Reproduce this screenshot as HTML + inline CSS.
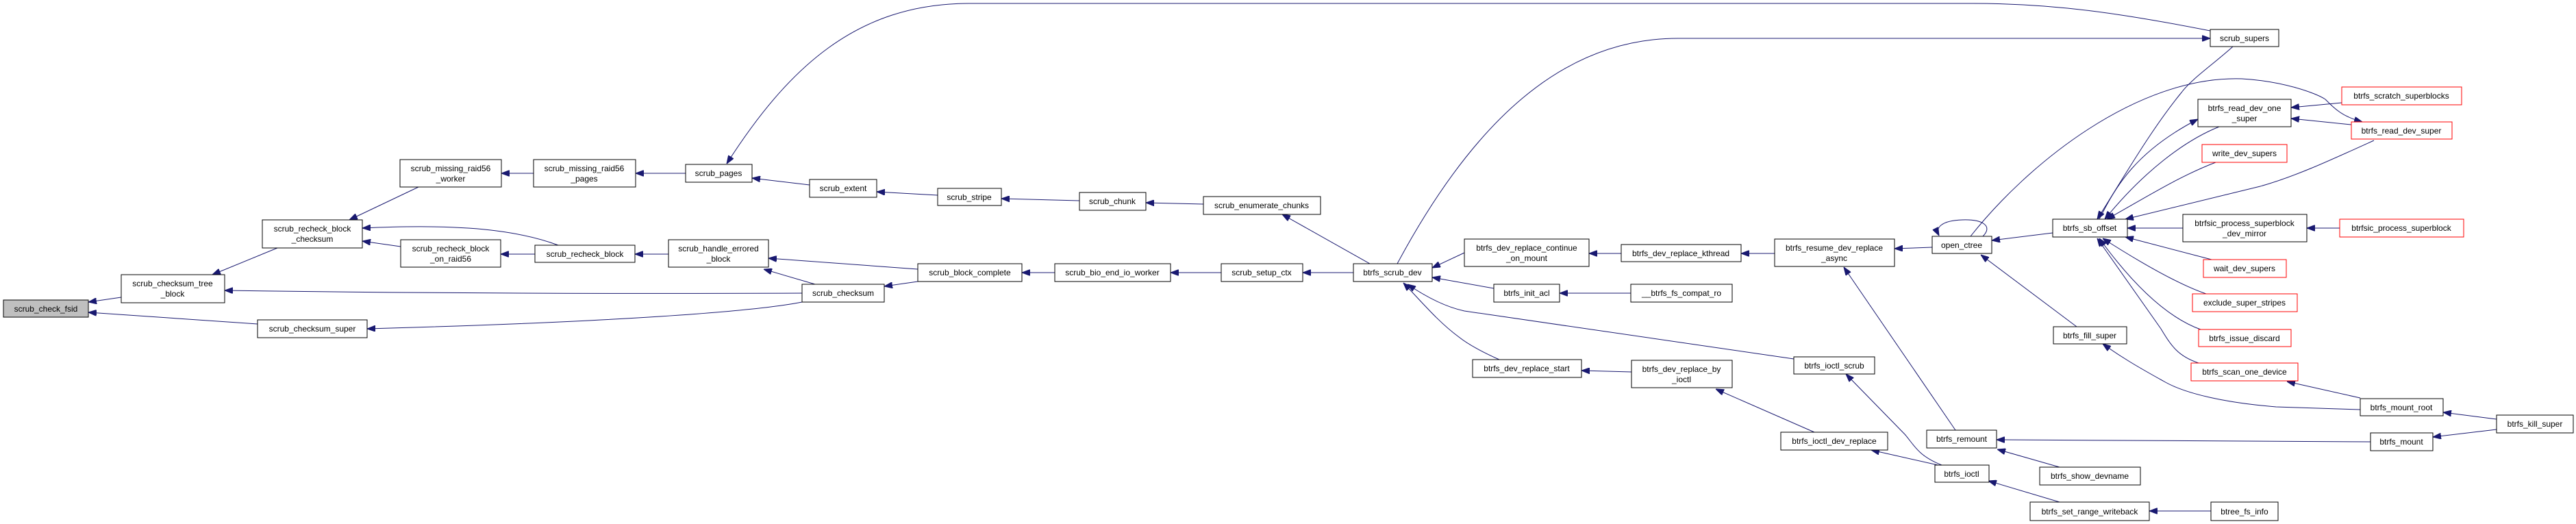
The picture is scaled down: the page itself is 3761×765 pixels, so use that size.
<!DOCTYPE html>
<html><head><meta charset="utf-8"><style>
html,body{margin:0;padding:0;background:#fff;}
svg{display:block;}
text{font-family:"Liberation Sans",sans-serif;font-size:12px;fill:#000;text-anchor:middle;}
rect{fill:#fff;stroke:#000;stroke-width:1;}
rect.r{stroke:#ff0000;}
path{fill:none;stroke:#191970;stroke-width:1;}
</style></head><body>
<svg width="3761" height="765" viewBox="0 0 3761 765" xmlns="http://www.w3.org/2000/svg">
<defs><marker id="a" viewBox="0 0 12 9" refX="12" refY="4.5" markerWidth="12" markerHeight="9" markerUnits="userSpaceOnUse" orient="auto"><path d="M0,0 L12,4.5 L0,9 z" style="fill:#191970;stroke:#191970"/></marker></defs>
<g marker-end="url(#a)">
<path d="M177,434 L129,441"/>
<path d="M376,473 L129,456"/>
<path d="M405,362 L310,401"/>
<path d="M1171,428 C900,429 600,428 328,424"/>
<path d="M1171,441 C1100,455 900,470 536,480"/>
<path d="M611,273 L510,321"/>
<path d="M815,358 C740,330 640,328 529,333"/>
<path d="M585,360 L529,352"/>
<path d="M781,371 L731,371"/>
<path d="M779,253 L732,253"/>
<path d="M1001,253 L928,253"/>
<path d="M976,371 L927,371"/>
<path d="M1340,393 L1122,377"/>
<path d="M1190,415 L1115,393"/>
<path d="M1340,411 L1291,418"/>
<path d="M1540,398 L1492,398"/>
<path d="M1783,398 L1709,398"/>
<path d="M1976,398 L1902,398"/>
<path d="M1182,270 L1098,260"/>
<path d="M1369,285 L1280,280"/>
<path d="M1576,293 L1462,290"/>
<path d="M1757,298 L1673,296"/>
<path d="M2000,385 L1872,313"/>
<path d="M3227,45 C3100,20 3000,5 2880,5 L1415,5 C1250,5 1150,100 1061,239"/>
<path d="M2040,385 C2150,180 2280,56 2450,56 L3227,56"/>
<path d="M2138,369 L2091,391"/>
<path d="M2367,370 L2320,370"/>
<path d="M2591,370 L2542,370"/>
<path d="M2821,361 L2766,363"/>
<path d="M2181,421 L2091,405"/>
<path d="M2381,428 L2277,428"/>
<path d="M2619,524 L2138,454 C2110,448 2080,432 2055,415"/>
<path d="M2189,525 C2160,512 2140,500 2130,492 C2100,470 2075,440 2049,413"/>
<path d="M2382,543 L2309,541"/>
<path d="M2649,631 L2505,568"/>
<path d="M2834,680 L2732,657"/>
<path d="M2835,679 C2800,665 2795,650 2781,634 L2695,546"/>
<path d="M2855,628 L2692,390"/>
<path d="M2895,345 C2910,330 2895,320 2865,321 C2835,322 2825,332 2831,344"/>
<path d="M2997,340 L2908,351"/>
<path d="M2877,345 C2960,240 3120,110 3273,115 C3330,118 3380,135 3395,145 C3410,160 3420,170 3449,178"/>
<path d="M3032,477 L2892,372"/>
<path d="M3461,645 L2915,642"/>
<path d="M3007,682 L2916,656"/>
<path d="M3007,733 L2903,702"/>
<path d="M3228,746 L3138,746"/>
<path d="M3446,598 L3323,594 C3250,588 3190,575 3158,556 C3120,535 3095,520 3070,502"/>
<path d="M3446,581 L3339,557"/>
<path d="M3645,612 L3567,602"/>
<path d="M3645,627 L3552,638"/>
<path d="M3260,68 C3230,95 3200,115 3185,135 C3140,190 3100,260 3062,320"/>
<path d="M3065,320 C3090,270 3120,220 3209,174"/>
<path d="M3240,185 C3190,205 3130,250 3073,320"/>
<path d="M3235,237 C3180,258 3130,290 3076,320"/>
<path d="M3466,205 C3400,235 3350,258 3300,272 L3103,320"/>
<path d="M3187,333 L3106,333"/>
<path d="M3416,333 L3368,333"/>
<path d="M3229,379 L3103,346"/>
<path d="M3221,429 C3180,415 3120,380 3070,348"/>
<path d="M3213,481 C3160,462 3110,410 3065,348"/>
<path d="M3210,530 C3180,520 3170,505 3155,480 L3062,348"/>
<path d="M3419,150 L3345,157"/>
<path d="M3433,182 L3345,173"/>
</g>
<rect x="5" y="438" width="124" height="25" style="fill:#bfbfbf"/><text x="67" y="455">scrub_check_fsid</text>
<rect x="177" y="401" width="151" height="41"/><text x="252" y="418">scrub_checksum_tree</text><text x="252" y="433">_block</text>
<rect x="376" y="467" width="160" height="26"/><text x="456" y="484">scrub_checksum_super</text>
<rect x="383" y="321" width="146" height="41"/><text x="456" y="338">scrub_recheck_block</text><text x="456" y="353">_checksum</text>
<rect x="584" y="233" width="148" height="40"/><text x="658" y="250">scrub_missing_raid56</text><text x="658" y="265">_worker</text>
<rect x="779" y="233" width="149" height="40"/><text x="853" y="250">scrub_missing_raid56</text><text x="853" y="265">_pages</text>
<rect x="585" y="350" width="146" height="40"/><text x="658" y="367">scrub_recheck_block</text><text x="658" y="382">_on_raid56</text>
<rect x="781" y="358" width="146" height="25"/><text x="854" y="375">scrub_recheck_block</text>
<rect x="976" y="350" width="146" height="40"/><text x="1049" y="367">scrub_handle_errored</text><text x="1049" y="382">_block</text>
<rect x="1001" y="240" width="97" height="26"/><text x="1049" y="257">scrub_pages</text>
<rect x="1182" y="262" width="98" height="26"/><text x="1231" y="279">scrub_extent</text>
<rect x="1369" y="275" width="93" height="25"/><text x="1415" y="292">scrub_stripe</text>
<rect x="1576" y="281" width="97" height="26"/><text x="1624" y="298">scrub_chunk</text>
<rect x="1757" y="287" width="171" height="26"/><text x="1842" y="304">scrub_enumerate_chunks</text>
<rect x="1171" y="415" width="120" height="26"/><text x="1231" y="432">scrub_checksum</text>
<rect x="1340" y="385" width="152" height="26"/><text x="1416" y="402">scrub_block_complete</text>
<rect x="1540" y="385" width="169" height="26"/><text x="1624" y="402">scrub_bio_end_io_worker</text>
<rect x="1783" y="385" width="119" height="26"/><text x="1842" y="402">scrub_setup_ctx</text>
<rect x="1976" y="385" width="115" height="26"/><text x="2033" y="402">btrfs_scrub_dev</text>
<rect x="2138" y="349" width="182" height="40"/><text x="2229" y="366">btrfs_dev_replace_continue</text><text x="2229" y="381">_on_mount</text>
<rect x="2367" y="357" width="175" height="25"/><text x="2454" y="374">btrfs_dev_replace_kthread</text>
<rect x="2591" y="349" width="175" height="40"/><text x="2678" y="366">btrfs_resume_dev_replace</text><text x="2678" y="381">_async</text>
<rect x="2821" y="345" width="87" height="25"/><text x="2864" y="362">open_ctree</text>
<rect x="2181" y="415" width="96" height="26"/><text x="2229" y="432">btrfs_init_acl</text>
<rect x="2381" y="415" width="148" height="26"/><text x="2455" y="432">__btrfs_fs_compat_ro</text>
<rect x="2150" y="525" width="159" height="26"/><text x="2229" y="542">btrfs_dev_replace_start</text>
<rect x="2382" y="526" width="147" height="40"/><text x="2455" y="543">btrfs_dev_replace_by</text><text x="2455" y="558">_ioctl</text>
<rect x="2619" y="521" width="118" height="25"/><text x="2678" y="538">btrfs_ioctl_scrub</text>
<rect x="2600" y="631" width="156" height="26"/><text x="2678" y="648">btrfs_ioctl_dev_replace</text>
<rect x="2813" y="628" width="102" height="26"/><text x="2864" y="645">btrfs_remount</text>
<rect x="2825" y="679" width="79" height="25"/><text x="2864" y="696">btrfs_ioctl</text>
<rect x="3227" y="43" width="100" height="25"/><text x="3277" y="60">scrub_supers</text>
<rect class="r" x="3419" y="127" width="175" height="26"/><text x="3506" y="144">btrfs_scratch_superblocks</text>
<rect x="3209" y="145" width="136" height="40"/><text x="3277" y="162">btrfs_read_dev_one</text><text x="3277" y="177">_super</text>
<rect class="r" x="3433" y="178" width="147" height="25"/><text x="3506" y="195">btrfs_read_dev_super</text>
<rect class="r" x="3215" y="211" width="124" height="26"/><text x="3277" y="228">write_dev_supers</text>
<rect x="2997" y="320" width="109" height="26"/><text x="3051" y="337">btrfs_sb_offset</text>
<rect x="3187" y="313" width="181" height="40"/><text x="3277" y="330">btrfsic_process_superblock</text><text x="3277" y="345">_dev_mirror</text>
<rect class="r" x="3416" y="320" width="181" height="26"/><text x="3506" y="337">btrfsic_process_superblock</text>
<rect class="r" x="3217" y="379" width="121" height="26"/><text x="3277" y="396">wait_dev_supers</text>
<rect class="r" x="3201" y="429" width="153" height="26"/><text x="3277" y="446">exclude_super_stripes</text>
<rect class="r" x="3210" y="481" width="135" height="25"/><text x="3277" y="498">btrfs_issue_discard</text>
<rect x="2998" y="477" width="107" height="25"/><text x="3051" y="494">btrfs_fill_super</text>
<rect class="r" x="3199" y="530" width="156" height="26"/><text x="3277" y="547">btrfs_scan_one_device</text>
<rect x="3446" y="582" width="121" height="25"/><text x="3506" y="599">btrfs_mount_root</text>
<rect x="3645" y="606" width="112" height="26"/><text x="3701" y="623">btrfs_kill_super</text>
<rect x="3461" y="632" width="91" height="26"/><text x="3506" y="649">btrfs_mount</text>
<rect x="2978" y="682" width="147" height="26"/><text x="3051" y="699">btrfs_show_devname</text>
<rect x="2964" y="733" width="174" height="27"/><text x="3051" y="751">btrfs_set_range_writeback</text>
<rect x="3228" y="733" width="98" height="27"/><text x="3277" y="751">btree_fs_info</text>
</svg>
</body></html>
